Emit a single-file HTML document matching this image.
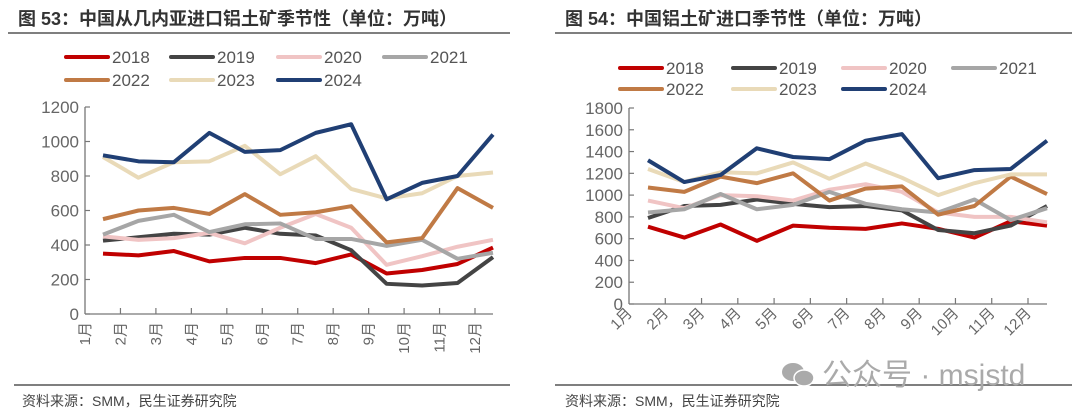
<!DOCTYPE html>
<html><head><meta charset="utf-8">
<style>
body{margin:0;background:#fff;width:1080px;height:418px;overflow:hidden;font-family:"Liberation Sans","Noto Sans CJK SC",sans-serif;}
svg{position:absolute;left:0;top:0}
</style></head>
<body>
<svg id="c" width="1080" height="418">
<text x="18" y="25" font-size="18" font-weight="bold" fill="#333" font-family="Liberation Sans,Noto Sans CJK SC,sans-serif">图 53：中国从几内亚进口铝土矿季节性（单位：万吨）</text>
<line x1="8" y1="33" x2="510" y2="33" stroke="#555" stroke-width="1.5"/>
<text x="565" y="25" font-size="18" font-weight="bold" fill="#333" font-family="Liberation Sans,Noto Sans CJK SC,sans-serif">图 54：中国铝土矿进口季节性（单位：万吨）</text>
<line x1="555" y1="33" x2="1072" y2="33" stroke="#555" stroke-width="1.5"/>
<line x1="14" y1="385" x2="510" y2="385" stroke="#555" stroke-width="1.5"/>
<line x1="555" y1="385" x2="1072" y2="385" stroke="#555" stroke-width="1.5"/>
<text x="22" y="406" font-size="14" fill="#444">资料来源：SMM，民生证券研究院</text>
<text x="565" y="406" font-size="14" fill="#444">资料来源：SMM，民生证券研究院</text>
<g><ellipse cx="793" cy="372" rx="11" ry="9" fill="#aaa"/><ellipse cx="804" cy="378" rx="10" ry="8" fill="#aaa" stroke="#fff" stroke-width="1.5"/></g>
<text x="822" y="385" font-size="30" fill="#aaa">公众号 · msjstd</text>
</svg>
<script>
const months = ["1月","2月","3月","4月","5月","6月","7月","8月","9月","10月","11月","12月"];
const years = ["2018","2019","2020","2021","2022","2023","2024"];
const colors = ["#c00000","#444444","#f0c4c4","#a6a6a6","#c07a45","#e9dab8","#203f74"];
const leftTicks = [0,200,400,600,800,1000,1200];
const rightTicks = [0,200,400,600,800,1000,1200,1400,1600,1800];
const left2018 = [350,340,365,305,325,325,295,345,235,255,290,385];
const left2019 = [425,445,465,460,500,465,455,370,175,165,180,330];
const left2020 = [450,430,440,470,410,500,580,500,285,335,390,430];
const left2021 = [460,540,575,475,520,525,435,435,395,430,320,355];
const left2022 = [550,600,615,580,695,575,590,625,415,440,730,615];
const left2023 = [910,790,880,885,975,810,915,725,670,700,800,820];
const left2024 = [920,885,880,1050,940,950,1050,1100,665,760,800,1040];
const right2018 = [710,610,730,580,720,700,690,740,690,610,760,720];
const right2019 = [790,900,910,960,920,890,900,860,680,650,720,900];
const right2020 = [950,880,1000,990,950,1050,1100,1030,840,800,800,750];
const right2021 = [840,870,1010,870,910,1030,920,870,840,960,770,880];
const right2022 = [1070,1030,1170,1110,1200,950,1060,1080,820,900,1170,1010];
const right2023 = [1240,1120,1210,1200,1300,1150,1290,1160,1000,1110,1190,1190];
const right2024 = [1320,1120,1185,1430,1350,1330,1500,1560,1155,1230,1240,1500];
const leftSeries = [left2018,left2019,left2020,left2021,left2022,left2023,left2024];
const rightSeries = [right2018,right2019,right2020,right2021,right2022,right2023,right2024];

const NS="http://www.w3.org/2000/svg";
const svg=document.getElementById('c');
function mk(tag,attrs,parent){const e=document.createElementNS(NS,tag);for(const k in attrs)e.setAttribute(k,attrs[k]);(parent||svg).appendChild(e);return e;}

function drawChart(cfg,series,ticks,prefix){
  const g=mk('g',{});
  
  
  const maxV=ticks[ticks.length-1];
  const y=v=>cfg.y0-(v/maxV)*(cfg.y0-cfg.y1);
  const step=(cfg.xe-cfg.xp0)/(months.length-1);
  const x=i=>cfg.xp0+i*step;
  mk('line',{x1:cfg.ax,y1:cfg.y1,x2:cfg.ax,y2:cfg.y0,stroke:'#777','stroke-width':1.3},g);
  mk('line',{x1:cfg.ax,y1:cfg.y0,x2:cfg.xe,y2:cfg.y0,stroke:'#777','stroke-width':1.3},g);
  ticks.forEach(t=>{
    mk('line',{x1:cfg.ax,y1:y(t),x2:cfg.ax+5,y2:y(t),stroke:'#777','stroke-width':1.2},g);
    const tx=mk('text',{x:cfg.ax-6,y:y(t)+6,'text-anchor':'end','font-size':17,fill:'#666'},g);
    tx.textContent=t;
    
    
  });
  months.forEach((m,i)=>{
    const tx0=cfg.ax+i*step;
    if(i>0) mk('line',{x1:tx0,y1:cfg.y0,x2:tx0,y2:cfg.y0-6,stroke:'#777','stroke-width':1.2},g);
    const lx=tx0+(cfg.rot===-90?5:4), ly=cfg.y0+(cfg.rot===-90?8:10);
    const t=mk('text',{x:lx,y:ly,'text-anchor':'end','font-size':15,fill:'#666',transform:`rotate(${cfg.rot} ${lx} ${ly})`},g);
    t.textContent=m;
    
    
  });
  series.forEach((vals,s)=>{
    const p=mk('polyline',{points:vals.map((v,i)=>x(i)+','+y(v)).join(' '),fill:'none',stroke:colors[s],'stroke-width':4,'stroke-linejoin':'round'},g);
    
    
  });
  years.forEach((yr,s)=>{
    const col=s<4?s:s-4, row=s<4?0:1;
    const lx=cfg.legX[col], ly=cfg.legY[row];
    const le=mk('g',{},g);
    
    
    mk('line',{x1:lx,y1:ly,x2:lx+42,y2:ly,stroke:colors[s],'stroke-width':4,'stroke-linecap':'round'},le);
    const t=mk('text',{x:lx+46,y:ly+6,'font-size':17,fill:'#555'},le);
    t.textContent=yr;
  });
}
drawChart({ax:85,y0:314,y1:107,xp0:103,xe:493,rot:-90,legX:[66,171,278,384],legY:[57,80]},leftSeries,leftTicks,'left');
drawChart({ax:629,y0:304,y1:108,xp0:648,xe:1047,rot:-45,legX:[620,733,843,953],legY:[68,89]},rightSeries,rightTicks,'right');
</script>
</body></html>
